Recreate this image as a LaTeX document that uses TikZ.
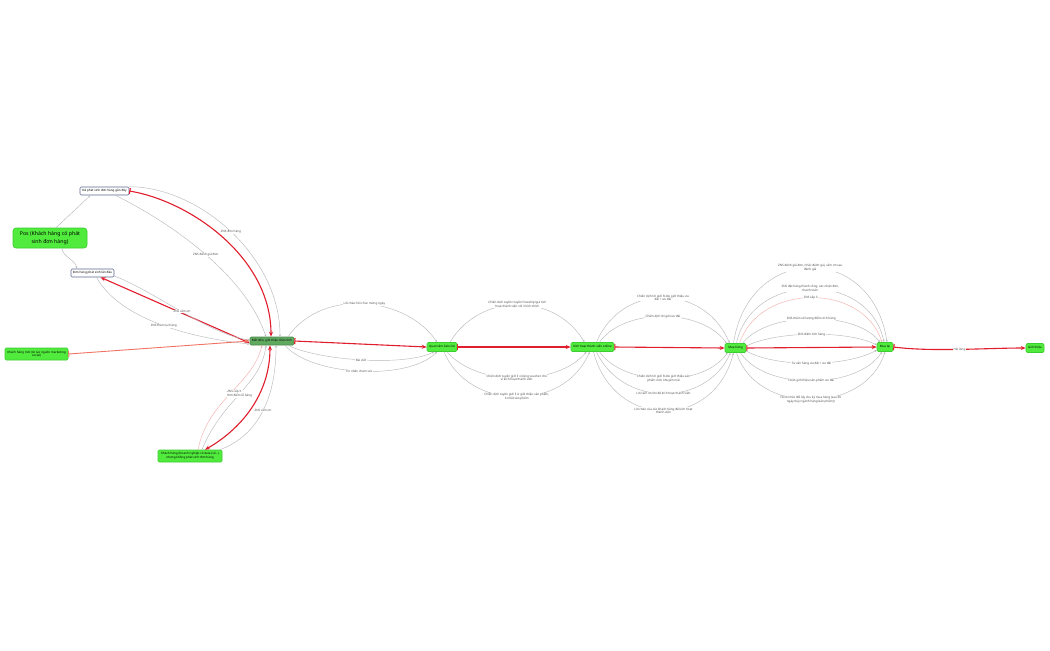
\documentclass[tikz,border=0pt]{standalone}
\usepackage{fontspec}
\setmainfont{Noto Sans}
\usetikzlibrary{positioning, arrows.meta}

\definecolor{mmgreen}{RGB}{80,235,60}
\definecolor{mmgreenline}{RGB}{60,205,50}
\definecolor{mmdark}{RGB}{95,170,95}
\definecolor{mmred}{RGB}{225,30,45}
\definecolor{mmsalmon}{RGB}{240,115,100}
\definecolor{mmpink}{RGB}{245,175,175}
\definecolor{mmgray}{RGB}{185,185,190}
\definecolor{mmframe}{RGB}{95,105,145}

\newcommand\lblfont{\fontsize{1.5}{1.9}\selectfont}
\newcommand\boxfont{\fontsize{1.5}{1.9}\selectfont}
\newcommand\rootfont{\bfseries\fontsize{2.6}{4}\selectfont}

\tikzset{
  box/.style={rounded corners=0.6pt, inner sep=0.4pt, font=\boxfont, align=center, minimum height=4pt, line width=0.3pt},
  gbox/.style={box, fill=mmgreen, draw=mmgreenline},
  wbox/.style={box, fill=white, draw=mmframe},
  dbox/.style={box, fill=mmdark, draw=mmdark!80!black},
  lbl/.style={font=\lblfont, fill=white, inner sep=0.2pt, align=center, text=black!70},
  zline/.style={draw=mmgray, line width=0.22pt, -{Stealth[length=1.2pt,width=1pt]}},
  rline/.style={draw=mmred, line width=0.55pt, {Bar[width=3pt]}-{Stealth[length=2.5pt,width=2pt]}},
  rboth/.style={draw=mmred, line width=0.55pt, {Stealth[length=2.5pt,width=2pt]}-{Stealth[length=2.5pt,width=2pt]}},
}

\begin{document}
\begin{tikzpicture}[x=0.5pt, y=-0.5pt]
  \fill[white] (0,0) rectangle (1050,650);
  \useasboundingbox (0,0) rectangle (1050,650);

  \node[gbox, rounded corners=1.5pt, minimum width=37pt, minimum height=10pt, font=\rootfont] (pos) at (50,238) {Pos (Khách hàng có phát\\sinh đơn hàng)};
  \node[wbox, minimum width=24.5pt] (recent) at (104.5,191) {Đã phát sinh đơn hàng gần đây};
  \node[wbox, minimum width=21.5pt] (first) at (92.5,273) {Đơn hàng phát sinh lần đầu};
  \node[gbox, minimum width=31.5pt, minimum height=6pt] (newcust) at (36.5,354) {Khách hàng mới (từ các nguồn marketing\\social)};
  \node[gbox, minimum width=32pt, minimum height=6pt] (bizcust) at (190,456) {Khách hàng (Doanh nghiệp có data (số...)\\nhưng không phát sinh đơn hàng};
  \node[dbox, minimum width=22pt] (aware) at (272,341) {Biết đến, giới thiệu thân tình};
  \node[gbox, minimum width=15pt, minimum height=4.5pt] (zalo) at (442,347) {Quan tâm Zalo OA};
  \node[gbox, minimum width=21.5pt, minimum height=4.5pt] (act) at (592.5,347) {Kích hoạt thành viên online};
  \node[gbox, minimum width=10.5pt, minimum height=4.5pt] (buy) at (735.5,348) {Mua hàng};
  \node[gbox, minimum width=8pt, minimum height=4.5pt] (rebuy) at (885,347) {Mua lại};
  \node[gbox, minimum width=9pt, minimum height=4.5pt] (refer) at (1035,348) {Giới thiệu};

  % entry points
  \begin{scope}
    \draw[zline] ([xshift=3pt]pos.north) -- ([xshift=-7pt]recent.south);
    \draw[zline] ([xshift=6pt]pos.south) .. controls +(0,8) and +(0,-8) .. ([xshift=-8pt]first.north);
    \draw[rline] (recent.east) .. controls +(60,10) and +(0,-80) .. ([xshift=-0.5pt]aware.north);
    \draw[zline] (recent.north east) .. controls +(70,0) and +(0,-80) .. ([xshift=4pt]aware.north) node[lbl, pos=0.5] {ZNS đơn hàng};
    \draw[zline] ([xshift=5.5pt]recent.south) .. controls +(60,30) and +(-20,-60) .. ([xshift=-3pt]aware.north) node[lbl, pos=0.5] {ZNS đánh giá đơn};
    \draw[rboth] ([xshift=4pt]first.south) -- ([yshift=-1pt]aware.west);
    \draw[zline] ([yshift=-1.5pt]first.east) .. controls +(40,15) and +(-40,-5) .. ([yshift=0.5pt]aware.west) node[lbl, pos=0.5] {ZNS cảm ơn};
    \draw[zline] ([xshift=2pt]first.south) .. controls +(25,45) and +(-50,-5) .. ([yshift=-1.5pt]aware.west) node[lbl, pos=0.5] {ZNS thăm lại hàng};
    \draw[rline, draw=mmsalmon, line width=0.45pt] (newcust.east) -- (aware.west);
    \draw[zline, draw=mmpink] ([xshift=4pt]bizcust.north) .. controls +(10,-50) and +(-10,40) .. ([xshift=-5pt]aware.south);
    \draw[zline] ([xshift=6pt]bizcust.north) .. controls +(20,-50) and +(-5,40) .. ([xshift=-3pt]aware.south) node[lbl, pos=0.5, align=left] {ZNS cấp 3\\ thời điểm lễ hàng};
    \draw[rboth] ([xshift=7.5pt]bizcust.north) .. controls +(35,-20) and +(0,50) .. ([xshift=-1pt]aware.south);
    \draw[zline] ([xshift=15pt]bizcust.north) .. controls +(40,-15) and +(0,50) .. ([xshift=2pt]aware.south) node[lbl, pos=0.5] {ZNS cảm ơn};
  \end{scope}

  % journey
  \begin{scope}
    \draw[rline] (aware.east) -- (zalo.west);
    \draw[zline] ([xshift=8pt]aware.north) .. controls +(35,-50) and +(-30,-45) .. ([xshift=-2.5pt]zalo.north) node[lbl, pos=0.5] {Lời chào hỏi chúc mừng ngày};
    \draw[zline] ([xshift=8pt]aware.south) .. controls +(30,15) and +(-30,15) .. ([xshift=-4pt]zalo.south) node[lbl, pos=0.5] {Bài viết};
    \draw[zline] ([xshift=6.5pt]aware.south) .. controls +(25,30) and +(-30,30) .. ([xshift=-2.5pt]zalo.south) node[lbl, pos=0.5] {Tin nhắn chăm sóc};

    \draw[rline] (zalo.east) -- (act.west);
    \draw[zline] ([xshift=4pt]zalo.north) .. controls +(30,-50) and +(-30,-50) .. ([xshift=-4pt]act.north) node[lbl, pos=0.5] {Chiến dịch tuyên truyền Freeship/giá tích\\hoạt thành viên với 3 kích thích};
    \draw[zline] ([xshift=2.5pt]zalo.south) .. controls +(30,35) and +(-30,35) .. ([xshift=-3pt]act.south) node[lbl, pos=0.5] {Chiến dịch tuyên giới lì xì tặng voucher cho\\ví kích hoạt thành viên};
    \draw[zline] ([xshift=1pt]zalo.south) .. controls +(25,60) and +(-25,60) .. ([xshift=-1.5pt]act.south) node[lbl, pos=0.5] {Chiến dịch tuyên giới lì xì giới thiệu sản phẩm,\\ít nhất sản phẩm};

    \draw[rline] (act.east) -- (buy.west);
    \draw[zline] ([xshift=2pt]act.north) .. controls +(25,-60) and +(-25,-60) .. ([xshift=-3pt]buy.north) node[lbl, pos=0.5] {Chiến dịch lời giới FLOA giới thiệu ưu\\đãi + ưu đãi};
    \draw[zline] ([xshift=3.5pt]act.north) .. controls +(25,-35) and +(-25,-35) .. ([xshift=-4.5pt]buy.north) node[lbl, pos=0.5] {Chiến dịch lời giới ưu đãi};
    \draw[zline] ([xshift=3.5pt]act.south) .. controls +(25,35) and +(-25,35) .. ([xshift=-4pt]buy.south) node[lbl, pos=0.5] {Chiến dịch lời giới FLOA giới thiệu sản\\phẩm mới, khuyến mãi};
    \draw[zline] ([xshift=2pt]act.south) .. controls +(25,55) and +(-25,55) .. ([xshift=-2.5pt]buy.south) node[lbl, pos=0.5] {Lời cảm ơn khi đã kích hoạt thành viên};
    \draw[zline] ([xshift=0.5pt]act.south) .. controls +(20,78) and +(-20,78) .. ([xshift=-1pt]buy.south) node[lbl, pos=0.5] {Lời chào của các khách hàng đã kích hoạt\\thành viên};

    \draw[rline] (buy.east) -- (rebuy.west);
    \draw[zline] ([xshift=-1pt]buy.north) .. controls +(15,-100) and +(-15,-100) .. ([xshift=1pt]rebuy.north) node[lbl, pos=0.5] {ZNS đánh giá đơn, nhắc đánh giá, cảm ơn sau\\đánh giá};
    \draw[zline] ([xshift=0.5pt]buy.north) .. controls +(15,-72) and +(-15,-72) .. ([xshift=-0.5pt]rebuy.north) node[lbl, pos=0.5] {ZNS đặt hàng thành công, xác nhận đơn,\\thanh toán};
    \draw[zline, draw=mmpink] ([xshift=2pt]buy.north) .. controls +(20,-60) and +(-20,-60) .. ([xshift=-1.5pt]rebuy.north) node[lbl, pos=0.5] {ZNS cấp 3};
    \draw[zline] ([xshift=3.5pt]buy.north) .. controls +(25,-32) and +(-25,-32) .. ([xshift=-2.5pt]rebuy.north) node[lbl, pos=0.5] {ZNS thăm số lượng điểm tích hàng};
    \draw[zline] ([yshift=1pt]buy.east) .. controls +(30,-15) and +(-30,-15) .. ([yshift=1pt]rebuy.west) node[lbl, pos=0.5] {ZNS điểm tích hàng};
    \draw[zline] ([yshift=-1.5pt]buy.east) .. controls +(30,17) and +(-30,17) .. ([yshift=-1.5pt]rebuy.west) node[lbl, pos=0.5] {Tư vấn hàng ưu đãi + ưu đãi};
    \draw[zline] ([xshift=2.5pt]buy.south) .. controls +(25,38) and +(-25,38) .. ([xshift=-1.5pt]rebuy.south) node[lbl, pos=0.5] {FLOA giới thiệu sản phẩm ưu đãi};
    \draw[zline] ([xshift=0.5pt]buy.south) .. controls +(20,63) and +(-20,63) .. (rebuy.south) node[lbl, pos=0.5] {FLOA nhắc đổi lấy chu kỳ mua hàng (sau 30\\ngày (tùy ngành hàng/sản phẩm))};

    \draw[rline] (rebuy.east) .. controls +(40,5) and +(-40,0) .. (refer.west) node[lbl, pos=0.5] {Hài lòng};
  \end{scope}
\end{tikzpicture}
\end{document}
